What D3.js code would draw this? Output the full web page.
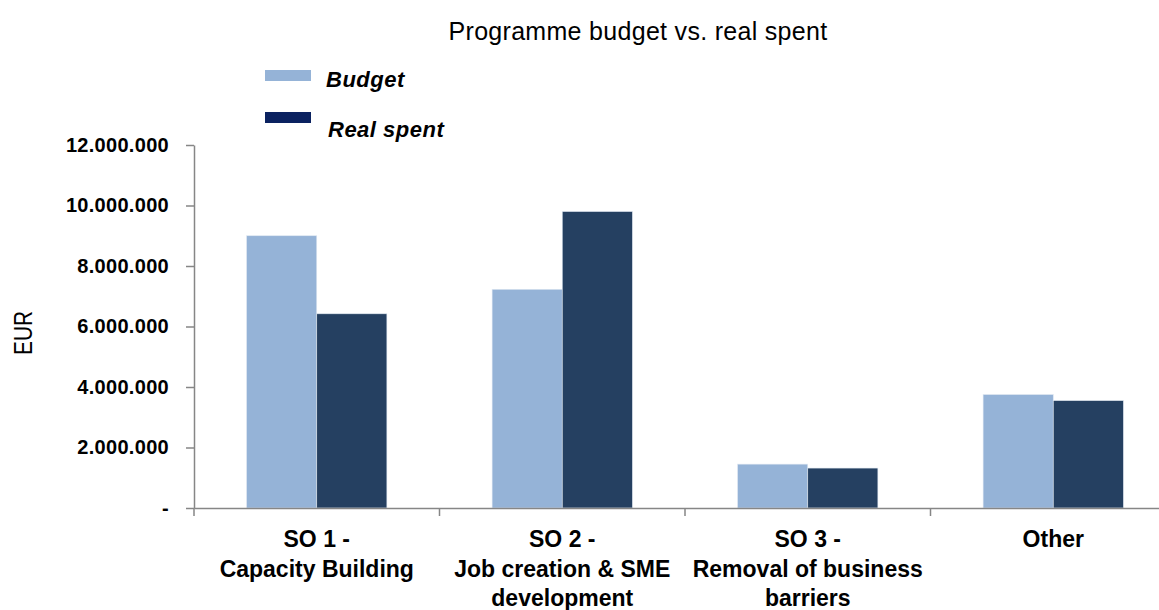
<!DOCTYPE html>
<html>
<head>
<meta charset="utf-8">
<script src="https://cdn.jsdelivr.net/npm/d3@7"></script>
<style>
  html, body { margin: 0; padding: 0; background: #fff; }
  svg { display: block; }
  text { font-family: "Liberation Sans", Arial, sans-serif; fill: #000; }
</style>
</head>
<body>
<svg id="chart" width="1159" height="610"></svg>
<script>
// Budget vs. actual spending per specific objective (EUR)
const categories = ["SO 1 -|Capacity Building", "SO 2 -|Job creation & SME|development", "SO 3 -|Removal of business|barriers", "Other"];
const budget = [9000000, 7230000, 1450000, 3750000];
const realSpent = [6420000, 9800000, 1320000, 3550000];
const seriesNames = ["Budget", "Real spent"];
const yTicks = [0, 2000000, 4000000, 6000000, 8000000, 10000000, 12000000];

const svg = d3.select("#chart");
const margin = { left: 194, top: 145, bottom: 508 };
const plotRight = 1176;

const x = d3.scaleBand().domain(d3.range(categories.length)).range([margin.left, plotRight]).paddingInner(0).paddingOuter(0);
const inner = d3.scaleBand().domain([0, 1]).range([0, x.bandwidth()]).paddingInner(0).paddingOuter(0.75);
const y = d3.scaleLinear().domain([0, 12000000]).range([margin.bottom, margin.top]);

const colors = ["#95b3d7", "#254061"];
const legendColors = ["#95b3d7", "#0b2260"];

// Title
svg.append("text").attr("x", 638).attr("y", 40).attr("text-anchor", "middle")
  .style("font-size", "25px").style("letter-spacing", "0.3px")
  .text("Programme budget vs. real spent");

// Bars
const series = [budget, realSpent];
series.forEach((vals, si) => {
  svg.append("g").selectAll("rect").data(vals).join("rect")
    .attr("x", (d, i) => x(i) + inner(si))
    .attr("y", d => y(d))
    .attr("width", inner.bandwidth())
    .attr("height", d => y(0) - y(d))
    .attr("fill", colors[si])
    .attr("stroke", "#dfe7f1").attr("stroke-width", 0.6);
});

// Y axis
const fmt = d => d === 0 ? "-" : d3.format(",")(d).replace(/,/g, ".");
const yAxis = d3.axisLeft(y).tickValues(yTicks).tickSize(8).tickSizeOuter(0).tickFormat(fmt).tickPadding(17);
const gy = svg.append("g").attr("transform", `translate(${margin.left},0)`).call(yAxis);
gy.select(".domain").attr("stroke", "#868686").attr("stroke-width", 1.5);
gy.selectAll(".tick line").attr("stroke", "#868686").attr("stroke-width", 1.5);
gy.selectAll(".tick text").style("font-size", "20px").style("font-weight", "bold")
  .style("letter-spacing", "0.3px").attr("fill", "#000");

// X axis
const xAxis = d3.axisBottom(x).tickSize(0).tickFormat("");
const gx = svg.append("g").attr("transform", `translate(0,${margin.bottom})`).call(xAxis);
gx.select(".domain").attr("stroke", "#868686").attr("stroke-width", 1.5);
// category boundary ticks
const bounds = d3.range(categories.length + 1).map(i => margin.left + i * x.bandwidth());
svg.append("g").selectAll("line").data(bounds).join("line")
  .attr("x1", d => d).attr("x2", d => d).attr("y1", margin.bottom).attr("y2", margin.bottom + 8)
  .attr("stroke", "#868686").attr("stroke-width", 1.5);

// Category labels
categories.forEach((c, i) => {
  const lines = c.split("|");
  const t = svg.append("text").attr("text-anchor", "middle")
    .style("font-size", "23px").style("font-weight", "bold");
  lines.forEach((ln, k) => {
    t.append("tspan").attr("x", x(i) + x.bandwidth() / 2).attr("y", 547 + k * 29.5).text(ln);
  });
});

// Y axis title (slightly condensed)
svg.append("text").attr("transform", "translate(32,333) rotate(-90) scale(0.83,1)").attr("text-anchor", "middle")
  .style("font-size", "25px").text("EUR");

// Legend
const swatchY = [70, 112];
const labelY = [87, 137];
seriesNames.forEach((n, i) => {
  svg.append("rect").attr("x", 265).attr("y", swatchY[i]).attr("width", 46).attr("height", 11).attr("fill", legendColors[i]);
  svg.append("text").attr("x", 326 + i * 2).attr("y", labelY[i])
    .style("font-size", "22px").style("letter-spacing", "0.5px")
    .style("font-style", "italic").style("font-weight", "bold").text(n);
});
</script>
</body>
</html>
